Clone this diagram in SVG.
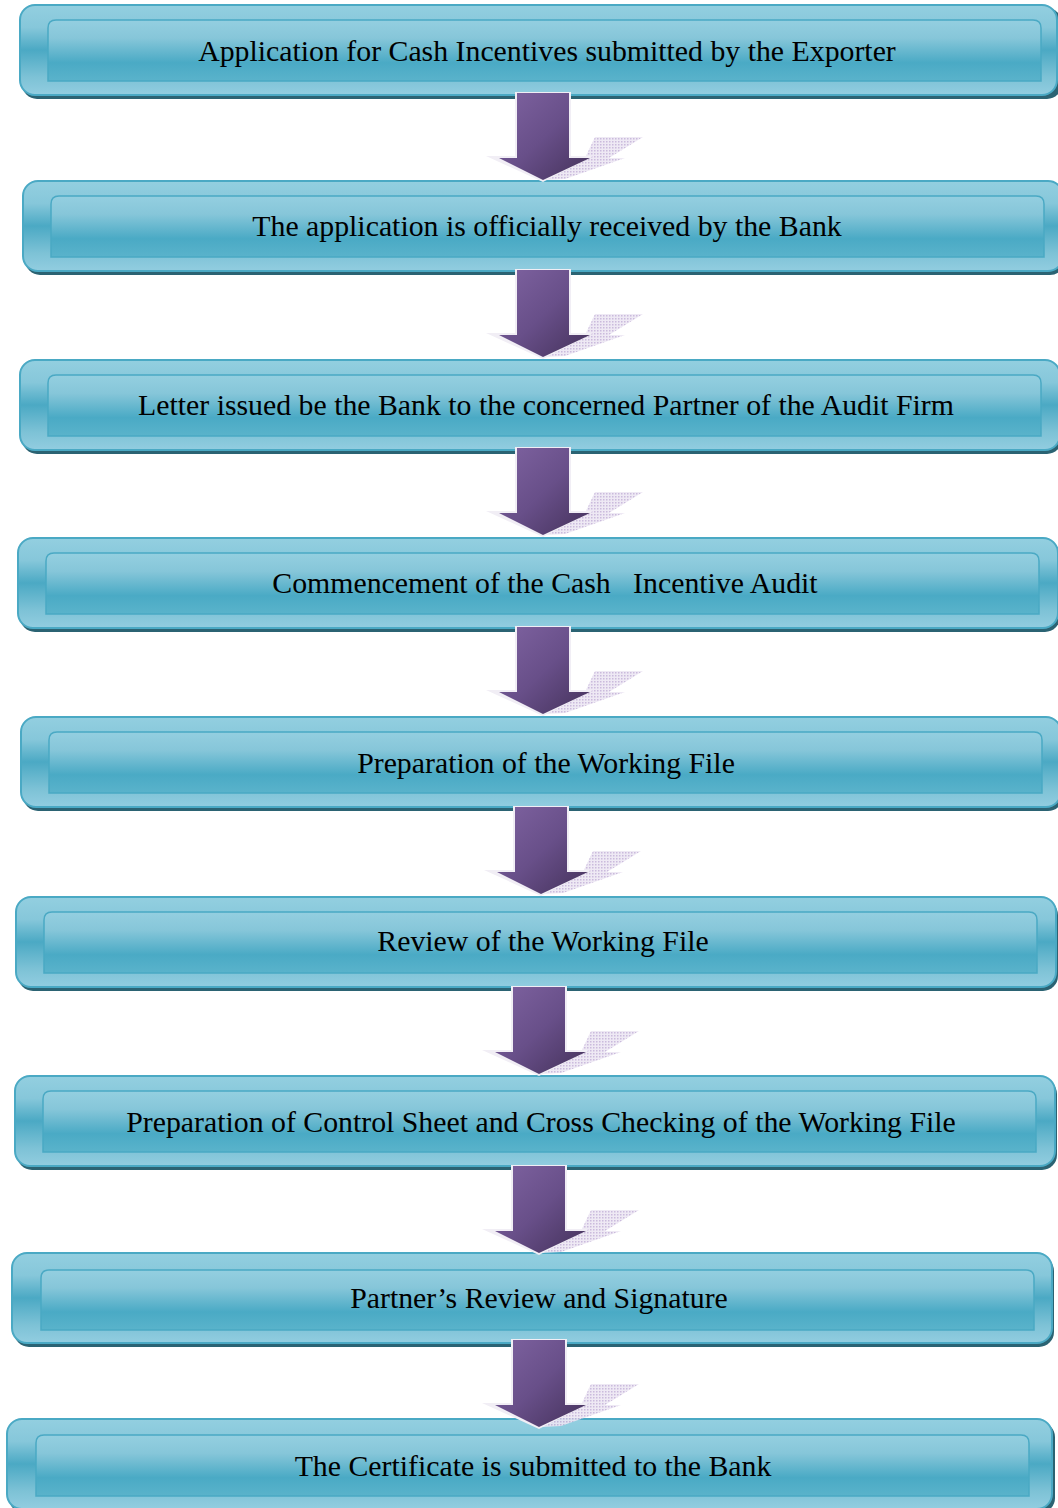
<svg xmlns="http://www.w3.org/2000/svg" xmlns:xlink="http://www.w3.org/1999/xlink" width="1058" height="1508" viewBox="0 0 1058 1508">
<style>
.outer{fill:url(#gOuter);stroke:#4aa9c4;stroke-width:2}
.shade{fill:#2b6373}
.inner{fill:url(#gInner);stroke:#4aa9c4;stroke-width:1.5}
.lbl{font-family:"Liberation Serif","Times New Roman",serif;font-size:29.8px;fill:#000;text-anchor:middle}
</style>
<defs>
<linearGradient id="gOuter" x1="0" y1="0" x2="0" y2="1">
<stop offset="0" stop-color="#93cfe0"/>
<stop offset="0.25" stop-color="#86c7da"/>
<stop offset="0.5" stop-color="#4ba9c4"/>
<stop offset="0.8" stop-color="#7dc2d6"/>
<stop offset="1" stop-color="#92cde0"/>
</linearGradient>
<linearGradient id="gInner" x1="0" y1="0" x2="0" y2="1">
<stop offset="0" stop-color="#94cfe0"/>
<stop offset="0.3" stop-color="#86c6d9"/>
<stop offset="0.7" stop-color="#4aaac5"/>
<stop offset="1" stop-color="#5ab3cb"/>
</linearGradient>
<linearGradient id="gArrow" x1="0" y1="0" x2="1" y2="1">
<stop offset="0" stop-color="#7f63a1"/>
<stop offset="0.5" stop-color="#684f89"/>
<stop offset="1" stop-color="#44315a"/>
</linearGradient>
<pattern id="dots" width="3" height="3" patternUnits="userSpaceOnUse">
<rect width="3" height="3" fill="#ece6f3"/>
<rect width="1.5" height="1.5" fill="#c4b3d8"/>
</pattern>
<g id="arrow">
<path d="M52,44 H100 L66,65 H82 L22,86 L2,87 L32,65 H42 Z" fill="url(#dots)" opacity="0.9"/>
<path d="M-28,-1 H28 V63 H50 L0,89 L-57,63 H-28 Z" fill="#f1eef5"/>
<path d="M-26,0 H26 V65 H47 L0,87 L-44,65 H-26 Z" fill="url(#gArrow)"/>
</g>
</defs>
<rect width="1058" height="1508" fill="#fff"/>

<g id="node1">
<rect class="shade" x="22" y="8" width="1040" height="91" rx="15"/>
<rect class="outer" x="20" y="5" width="1037" height="90" rx="15"/>
<path class="inner" d="M48,81 V28 Q48,20 56,20 H1033 Q1041,20 1041,28 V81 Z"/>
<text class="lbl" x="547" y="61">Application for Cash Incentives submitted by the Exporter</text>
</g>
<g id="node2">
<rect class="shade" x="25" y="184" width="1040" height="91" rx="15"/>
<rect class="outer" x="23" y="181" width="1040" height="90" rx="15"/>
<path class="inner" d="M51,257 V204 Q51,196 59,196 H1036 Q1044,196 1044,204 V257 Z"/>
<text class="lbl" x="547" y="236">The application is officially received by the Bank</text>
</g>
<g id="node3">
<rect class="shade" x="22" y="363" width="1040" height="91" rx="15"/>
<rect class="outer" x="20" y="360" width="1040" height="90" rx="15"/>
<path class="inner" d="M48,436 V383 Q48,375 56,375 H1033 Q1041,375 1041,383 V436 Z"/>
<text class="lbl" x="546" y="415">Letter issued be the Bank to the concerned Partner of the Audit Firm</text>
</g>
<g id="node4">
<rect class="shade" x="20" y="541" width="1040" height="91" rx="15"/>
<rect class="outer" x="18" y="538" width="1040" height="90" rx="15"/>
<path class="inner" d="M46,614 V561 Q46,553 54,553 H1031 Q1039,553 1039,561 V614 Z"/>
<text class="lbl" x="545" y="593" xml:space="preserve">Commencement of the Cash   Incentive Audit</text>
</g>
<g id="node5">
<rect class="shade" x="23" y="720" width="1040" height="91" rx="15"/>
<rect class="outer" x="21" y="717" width="1040" height="90" rx="15"/>
<path class="inner" d="M49,793 V740 Q49,732 57,732 H1034 Q1042,732 1042,740 V793 Z"/>
<text class="lbl" x="546" y="773">Preparation of the Working File</text>
</g>
<g id="node6">
<rect class="shade" x="18" y="900" width="1040" height="91" rx="15"/>
<rect class="outer" x="16" y="897" width="1040" height="90" rx="15"/>
<path class="inner" d="M44,973 V920 Q44,912 52,912 H1029 Q1037,912 1037,920 V973 Z"/>
<text class="lbl" x="543" y="951">Review of the Working File</text>
</g>
<g id="node7">
<rect class="shade" x="17" y="1079" width="1040" height="91" rx="15"/>
<rect class="outer" x="15" y="1076" width="1040" height="90" rx="15"/>
<path class="inner" d="M43,1152 V1099 Q43,1091 51,1091 H1028 Q1036,1091 1036,1099 V1152 Z"/>
<text class="lbl" x="541" y="1132">Preparation of Control Sheet and Cross Checking of the Working File</text>
</g>
<g id="node8">
<rect class="shade" x="14" y="1256" width="1040" height="91" rx="15"/>
<rect class="outer" x="12" y="1253" width="1040" height="90" rx="15"/>
<path class="inner" d="M41,1330 V1278 Q41,1270 49,1270 H1026 Q1034,1270 1034,1278 V1330 Z"/>
<text class="lbl" x="539" y="1308">Partner’s Review and Signature</text>
</g>
<g id="node9">
<rect class="shade" x="9" y="1422" width="1046" height="91" rx="15"/>
<rect class="outer" x="7" y="1419" width="1045" height="90" rx="15"/>
<path class="inner" d="M36,1496 V1443 Q36,1435 44,1435 H1021 Q1029,1435 1029,1443 V1496 Z"/>
<text class="lbl" x="533" y="1476">The Certificate is submitted to the Bank</text>
</g>

<g id="connectors">
<use xlink:href="#arrow" transform="translate(543,93)"/>
<use xlink:href="#arrow" transform="translate(543,270)"/>
<use xlink:href="#arrow" transform="translate(543,448)"/>
<use xlink:href="#arrow" transform="translate(543,627)"/>
<use xlink:href="#arrow" transform="translate(541,807)"/>
<use xlink:href="#arrow" transform="translate(539,987)"/>
<use xlink:href="#arrow" transform="translate(539,1166)"/>
<use xlink:href="#arrow" transform="translate(539,1340)"/>
</g>
</svg>
